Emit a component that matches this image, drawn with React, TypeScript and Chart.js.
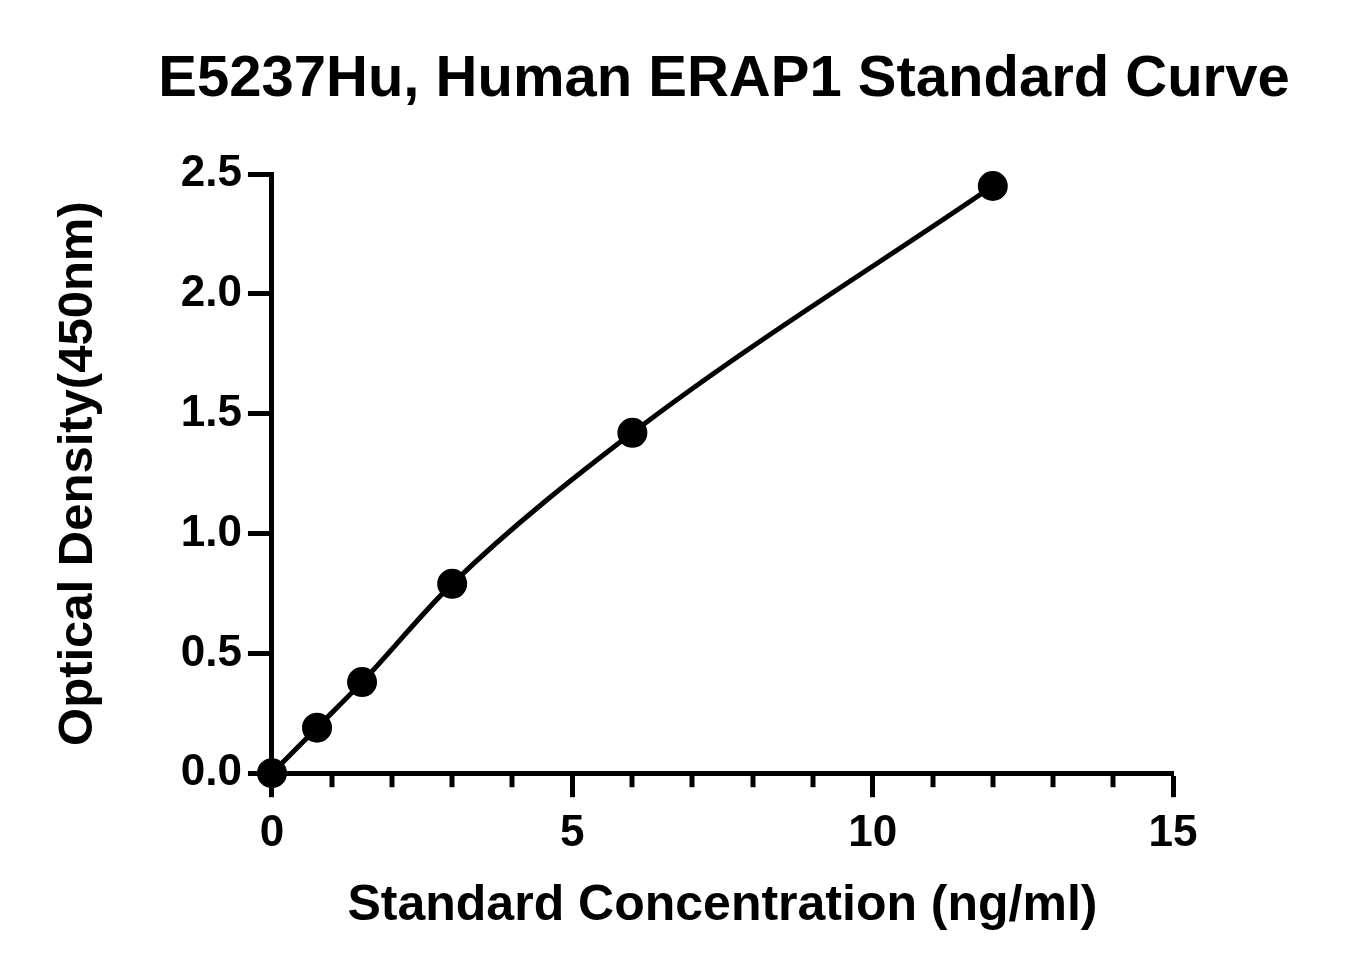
import React, { useEffect, useRef } from 'react';
import { Chart, registerables } from 'chart.js';

Chart.register(...registerables);

// standard concentrations (ng/ml) and measured OD at 450nm
const concentrations = [0, 0.75, 1.5, 3, 6, 12];
const densities = [0.0, 0.19, 0.38, 0.79, 1.42, 2.45];

const xMin = 0;
const xMax = 15;
const xMajorStep = 5;
const yMin = 0;
const yMax = 2.5;
const yStep = 0.5;

const chartTitle = 'E5237Hu, Human ERAP1 Standard Curve';
const xTitle = 'Standard Concentration (ng/ml)';
const yTitle = 'Optical Density(450nm)';

const FONT = '"Liberation Sans", Arial, Helvetica, sans-serif';

// short ticks between the labelled ones on the x axis
const minorTicks = {
    id: 'minorTicks',
    afterDraw(chart: any) {
        const scale = chart.scales.x;
        const ctx = chart.ctx;
        ctx.save();
        ctx.strokeStyle = '#000';
        ctx.lineWidth = 5;
        scale.ticks.forEach((t: any) => {
            if (t.value % xMajorStep === 0) return;
            const px = Math.round(scale.getPixelForValue(t.value));
            ctx.beginPath();
            ctx.moveTo(px, scale.top);
            ctx.lineTo(px, scale.top + 14);
            ctx.stroke();
        });
        ctx.restore();
    },
};

const StandardCurve: React.FC = () => {
    const canvasRef = useRef<HTMLCanvasElement | null>(null);
    const chartRef = useRef<Chart | null>(null);

    useEffect(() => {
        if (!canvasRef.current) return;
        if (chartRef.current) chartRef.current.destroy();

        const points = concentrations.map((c, i) => ({ x: c, y: densities[i] }));

        chartRef.current = new Chart(canvasRef.current, {
            type: 'scatter',
            data: {
                datasets: [
                    {
                        data: points,
                        showLine: true,
                        cubicInterpolationMode: 'monotone',
                        borderColor: '#000',
                        borderWidth: 5,
                        backgroundColor: '#000',
                        pointRadius: 12.5,
                        pointHoverRadius: 12.5,
                        clip: false as any,
                    },
                ],
            },
            options: {
                animation: false,
                responsive: false,
                maintainAspectRatio: false,
                layout: { padding: { left: 0, right: 177, top: 174, bottom: 0 } },
                plugins: {
                    legend: { display: false },
                    tooltip: { enabled: false },
                    title: { display: false },
                },
                scales: {
                    x: {
                        type: 'linear',
                        min: xMin,
                        max: xMax,
                        border: { display: true, color: '#000', width: 5 },
                        grid: {
                            drawOnChartArea: false,
                            tickLength: 24,
                            tickWidth: 5,
                            tickColor: (ctx: any) =>
                                ctx.tick && ctx.tick.value % xMajorStep === 0 ? '#000' : 'rgba(0,0,0,0)',
                        },
                        ticks: {
                            stepSize: 1,
                            autoSkip: false,
                            maxRotation: 0,
                            color: '#000',
                            padding: 10,
                            font: { family: FONT, size: 44, weight: 'bold' },
                            callback: (v: any) => (Number(v) % xMajorStep === 0 ? String(v) : ''),
                        },
                        title: {
                            display: true,
                            text: xTitle,
                            color: '#000',
                            font: { family: FONT, size: 50, weight: 'bold' },
                            padding: { top: 6, bottom: 39 },
                        },
                    },
                    y: {
                        type: 'linear',
                        min: yMin,
                        max: yMax,
                        border: { display: true, color: '#000', width: 5 },
                        grid: {
                            drawOnChartArea: false,
                            tickLength: 24,
                            tickWidth: 5,
                            tickColor: '#000',
                        },
                        ticks: {
                            stepSize: yStep,
                            color: '#000',
                            padding: 6,
                            font: { family: FONT, size: 44, weight: 'bold' },
                            callback: (v: any) => Number(v).toFixed(1),
                        },
                        title: {
                            display: true,
                            text: yTitle,
                            color: '#000',
                            font: { family: FONT, size: 49, weight: 'bold' },
                            padding: { top: 49, bottom: 67 },
                        },
                    },
                },
            },
            plugins: [minorTicks],
        });

        return () => {
            if (chartRef.current) {
                chartRef.current.destroy();
                chartRef.current = null;
            }
        };
    }, []);

    return (
        <div
            style={{
                position: 'absolute',
                left: 0,
                top: 0,
                width: 1350,
                height: 975,
                background: '#fff',
                overflow: 'hidden',
            }}
        >
            <div
                style={{
                    position: 'absolute',
                    left: 0,
                    top: 41,
                    width: 1448,
                    textAlign: 'center',
                    whiteSpace: 'nowrap',
                    fontFamily: FONT,
                    fontWeight: 'bold',
                    fontSize: 58,
                    lineHeight: '70px',
                    color: '#000',
                }}
            >
                {chartTitle}
            </div>
            <canvas ref={canvasRef} width={1350} height={975} style={{ display: 'block' }} />
        </div>
    );
};

export default function App() {
    return <StandardCurve />;
}
